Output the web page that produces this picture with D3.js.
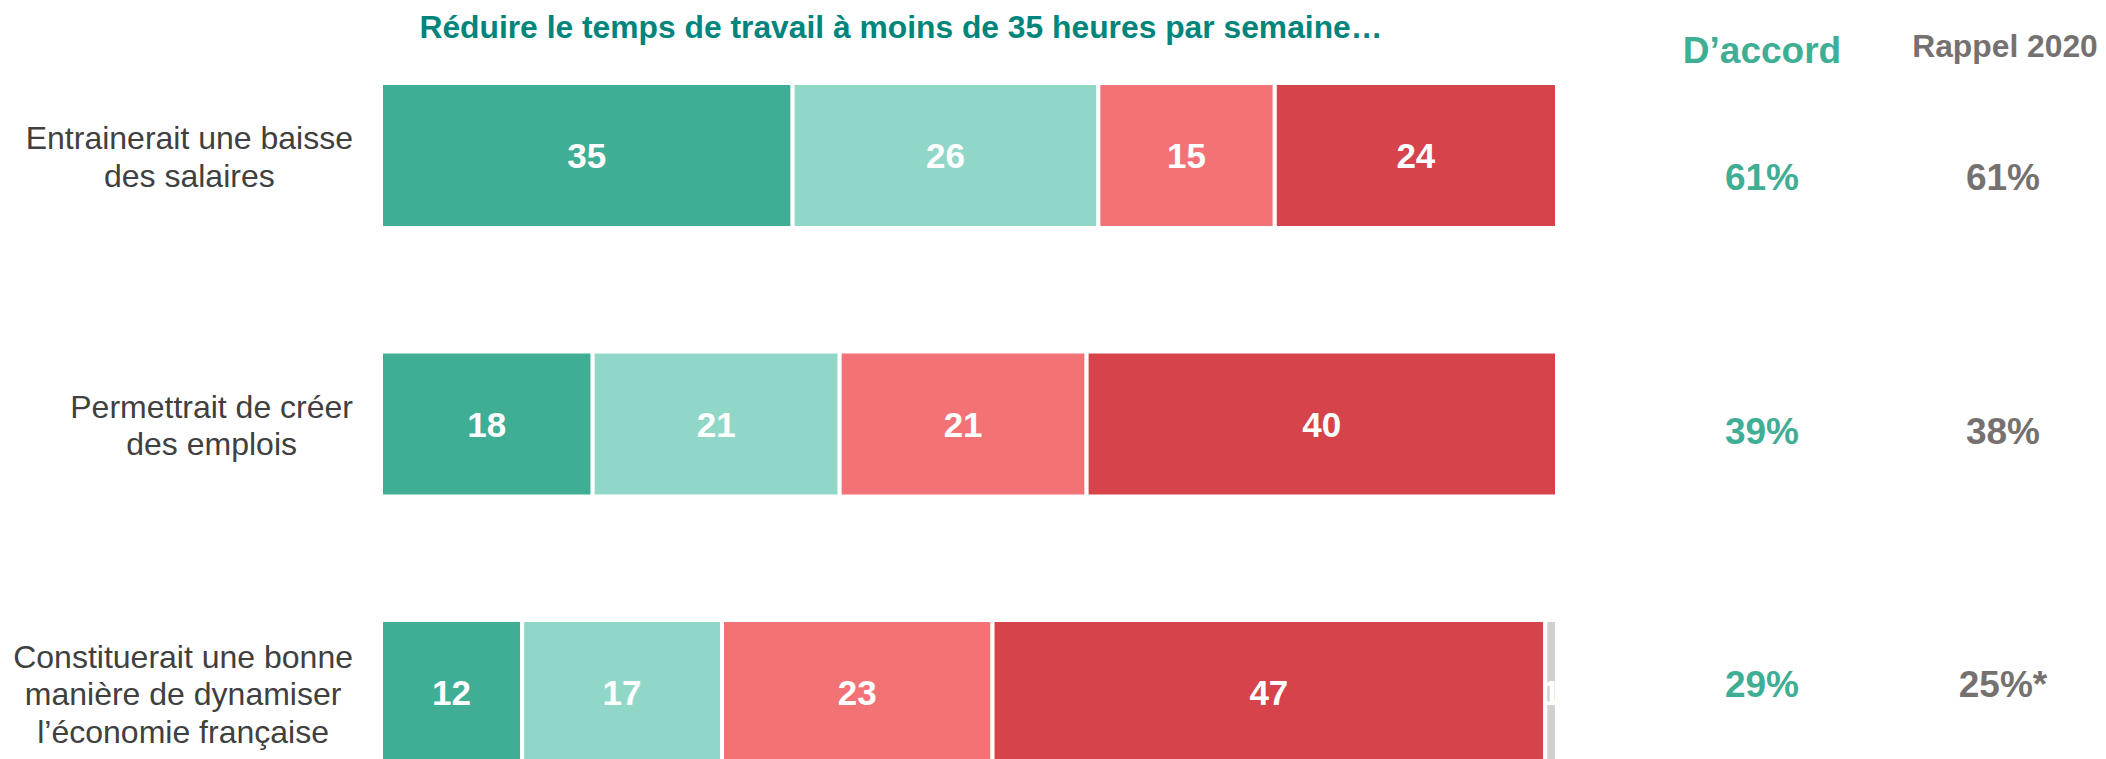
<!DOCTYPE html>
<html lang="fr">
<head>
<meta charset="utf-8">
<script src="https://cdn.jsdelivr.net/npm/d3@7"></script>
<style>
  html, body { margin: 0; padding: 0; background: #fff; }
  svg { display: block; font-family: "Liberation Sans", Arial, sans-serif; }
</style>
</head>
<body>
<svg id="chart" width="2106" height="759"></svg>
<script>
// Items (one line per entry in each label)
const categories = [
  ["Entrainerait une baisse", "des salaires"],
  ["Permettrait de créer", "des emplois"],
  ["Constituerait une bonne", "manière de dynamiser", "l’économie française"]
];

// Answer shares, in %
const seriesNames = ["Tout à fait d’accord", "Plutôt d’accord", "Plutôt pas d’accord", "Pas du tout d’accord", "Ne se prononce pas"];
const toutAFait   = [35, 18, 12];
const plutot      = [26, 21, 17];
const plutotPas   = [15, 21, 23];
const pasDuTout   = [24, 40, 47];
const nsp         = [0, 0, 1];

// Earlier wave, for comparison
const rappel2020      = [61, 38, 25];
const rappel2020Notes = ["", "", "*"];

const title = "Réduire le temps de travail à moins de 35 heures par semaine…";
const headerAccord = "D’accord";
const headerRappel = "Rappel 2020";

const colors = ["#3FAE95", "#91D7C8", "#F27275", "#D6434A", "#D0D0D0"];
const keys = ["s0", "s1", "s2", "s3", "s4"];

const rows = categories.map((c, i) => ({
  id: i,
  s0: toutAFait[i], s1: plutot[i], s2: plutotPas[i], s3: pasDuTout[i], s4: nsp[i]
}));

const svg = d3.select("#chart");

const x = d3.scaleLinear().domain([0, 100]).range([381, 1557]);
const y = d3.scaleBand().domain(d3.range(categories.length)).range([83, 765])
  .paddingInner(0.46).paddingOuter(0);
const yRight = d3.scalePoint().domain(d3.range(categories.length)).range([177, 684]);

const stacked = d3.stack().keys(keys)(rows);

// Stacked bars
const layers = svg.append("g").selectAll("g").data(stacked).join("g")
  .attr("fill", (d, i) => colors[i]);

layers.selectAll("rect").data(d => d.filter(p => p[1] - p[0] > 0)).join("rect")
  .attr("x", d => x(d[0]))
  .attr("y", d => y(d.data.id))
  .attr("width", d => x(d[1]) - x(d[0]))
  .attr("height", y.bandwidth())
  .attr("stroke", "#fff")
  .attr("stroke-width", 4);

// Values inside segments
layers.selectAll("text").data(d => d.filter(p => p[1] - p[0] > 0)).join("text")
  .attr("x", d => (x(d[0]) + x(d[1])) / 2)
  .attr("y", d => y(d.data.id) + y.bandwidth() / 2)
  .attr("dy", "0.36em")
  .attr("text-anchor", "middle")
  .attr("fill", "#fff")
  .attr("font-weight", "bold")
  .attr("font-size", 35)
  .text(d => d[1] - d[0]);

// Item labels: each block centred on its widest line, right edge near the bars
const labelSize = 32, lineH = 37.5, labelRight = 353;
const labels = svg.append("g").attr("fill", "#404040").attr("font-size", labelSize);
categories.forEach((lines, i) => {
  const t = labels.append("text").attr("text-anchor", "middle");
  const cy = y(i) + y.bandwidth() / 2 + 1;
  const y0 = cy - (lines.length - 1) * lineH / 2;
  const spans = lines.map((ln, k) =>
    t.append("tspan").attr("x", 0).attr("y", y0 + k * lineH).attr("dy", "0.36em").text(ln));
  const w = d3.max(spans, s => s.node().getComputedTextLength());
  spans.forEach(s => s.attr("x", labelRight - w / 2));
});

// Title
svg.append("text")
  .attr("x", 901).attr("y", 38)
  .attr("text-anchor", "middle")
  .attr("fill", "#00857C")
  .attr("font-weight", "bold")
  .attr("font-size", 31.8)
  .text(title);

// Right-hand columns
const colAccord = 1762, colRappel = 2005;
svg.append("text")
  .attr("x", colAccord).attr("y", 63)
  .attr("text-anchor", "middle").attr("fill", "#3FAE95")
  .attr("font-weight", "bold").attr("font-size", 37)
  .text(headerAccord);
svg.append("text")
  .attr("x", colRappel).attr("y", 57)
  .attr("text-anchor", "middle").attr("fill", "#767171")
  .attr("font-weight", "bold").attr("font-size", 31.8)
  .text(headerRappel);

svg.append("g").selectAll("text").data(rows).join("text")
  .attr("x", colAccord)
  .attr("y", d => yRight(d.id))
  .attr("dy", "0.36em")
  .attr("text-anchor", "middle").attr("fill", "#3FAE95")
  .attr("font-weight", "bold").attr("font-size", 37)
  .text(d => (d.s0 + d.s1) + "%");

svg.append("g").selectAll("text").data(rows).join("text")
  .attr("x", colRappel - 2)
  .attr("y", d => yRight(d.id))
  .attr("dy", "0.36em")
  .attr("text-anchor", "middle").attr("fill", "#767171")
  .attr("font-weight", "bold").attr("font-size", 37)
  .text(d => rappel2020[d.id] + "%" + rappel2020Notes[d.id]);
</script>
</body>
</html>
